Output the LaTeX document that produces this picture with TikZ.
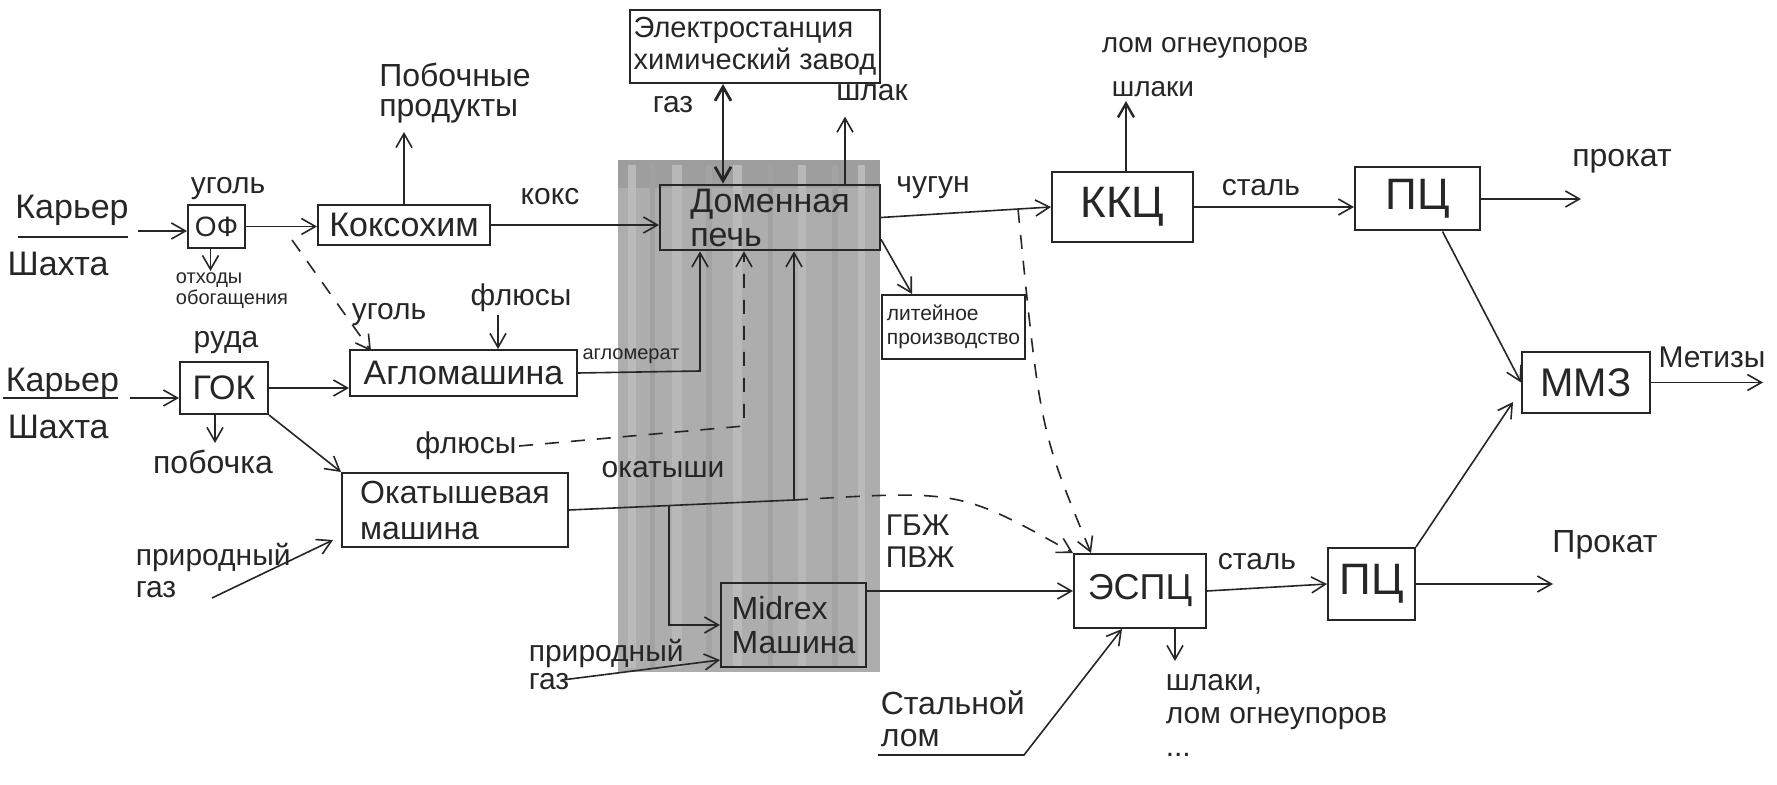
\documentclass[tikz,border=0pt]{standalone}
\usepackage{fontspec}
\setmainfont{Liberation Sans}
\usetikzlibrary{arrows.meta}
\newcommand\myfs[2]{\fontsize{#1}{#2}\selectfont}
\begin{document}
\begin{tikzpicture}[x=0.5pt,y=-0.5pt,line width=0.8pt,
  >={Straight Barb[length=7pt,width=8pt]},
  box/.style={draw=black!85,line width=1pt,inner sep=2pt,align=center,text=black!85},
  lab/.style={inner sep=1pt,text=black!85,font=\myfs{15}{16}},
  dsh/.style={dash pattern=on 7pt off 6pt},
  conn/.style={draw=black!85,->}]
\useasboundingbox (0,0) rectangle (1777,785);
% grey band
\fill[black!32] (618,160) rectangle (880,672);
\fill[black!38] (618,160) rectangle (880,188);
\foreach \x/\w/\c in {628/8/27,650/5/37,672/10/28,706/6/36,733/9/27,768/5/37,798/8/28,832/6/36,858/7/27}
  \fill[black!\c] (\x,165) rectangle ++(\w,503);

% boxes
\node[box,minimum width=28.5pt,minimum height=21.5pt,font=\myfs{14}{16}] (of) at (216.5,226.5) {ОФ};
\node[box,minimum width=86pt,minimum height=20pt,font=\myfs{17}{19}] (koks) at (404,225) {Коксохим};
\node[box,minimum width=110pt,minimum height=32.5pt,font=\myfs{17}{17},align=left] (domna) at (770,217.5) {Доменная\\печь};
\node[box,minimum width=125pt,minimum height=36.5pt,font=\myfs{14.5}{16},align=left] (es) at (755,46.5) {Электростанция\\химический завод};
\node[box,minimum width=70.5pt,minimum height=35pt,font=\myfs{22}{24}] (kkc) at (1122.5,207) {ККЦ};
\node[box,minimum width=62.5pt,minimum height=31.5pt,font=\myfs{22}{24}] (pc1) at (1417.5,199) {ПЦ};
\node[box,minimum width=64pt,minimum height=30.5pt,font=\myfs{20}{22}] (mmz) at (1586,382.5) {ММЗ};
\node[box,minimum width=43.5pt,minimum height=36pt,font=\myfs{22}{24}] (pc2) at (1371.5,584) {ПЦ};
\node[box,minimum width=66pt,minimum height=37pt,font=\myfs{18}{20}] (espc) at (1140,591) {ЭСПЦ};
\node[box,minimum width=72.5pt,minimum height=42pt,font=\myfs{16}{17},align=left] (midrex) at (793.5,625) {Midrex\\Машина};
\node[box,minimum width=113pt,minimum height=37pt,font=\myfs{16}{18},align=left] (okat) at (455,510) {Окатышевая\\машина};
\node[box,minimum width=113.5pt,minimum height=23pt,font=\myfs{17}{19}] (aglo) at (463.5,373) {Агломашина};
\node[box,minimum width=44pt,minimum height=26pt,font=\myfs{17}{19}] (gok) at (224,388) {ГОК};
\node[box,minimum width=71.5pt,minimum height=32pt,font=\myfs{10.5}{12},align=left,inner sep=1pt] (lit) at (953.5,327) {литейное\\производство};

% labels
\node[lab,font=\myfs{17}{18}] (kar1) at (72,210) {Карьер};
\node[lab,font=\myfs{17}{18}] (sha1) at (58,264) {Шахта};
\node[lab,font=\myfs{17}{18},anchor=west] (kar2) at (3,383) {Карьер};
\node[lab,font=\myfs{17}{18},anchor=west] (sha2) at (5,427) {Шахта};
\node[lab] (ugol1) at (228,189) {уголь};
\node[lab,font=\myfs{10}{10.5},align=left] (otx) at (232,291) {отходы\\обогащения};
\node[lab,font=\myfs{16}{15},align=left] (poboch) at (455,93) {Побочные\\продукты};
\node[lab] (koksl) at (550,197) {кокс};
\node[lab] (gazl) at (673,105) {газ};
\node[lab] (shlakl) at (872,93) {шлак};
\node[lab] (chugun) at (933,188) {чугун};
\node[lab,font=\myfs{14}{15}] (shlaki1) at (1153,89) {шлаки};
\node[lab,font=\myfs{14}{15}] (lom1) at (1205,48) {лом огнеупоров};
\node[lab] (stal1) at (1261,188) {сталь};
\node[lab,font=\myfs{16}{17}] (prokat1) at (1622,161) {прокат};
\node[lab] (metizy) at (1712,357) {Метизы};
\node[lab,font=\myfs{16}{17}] (prokat2) at (1605,545) {Прокат};
\node[lab] (stal2) at (1257,562) {сталь};
\node[lab,align=left,anchor=north west] (gbj) at (883,512) {ГБЖ\\ПВЖ};
\node[lab,align=left,anchor=north west,font=\myfs{15}{16.5}] (shl2) at (1163,672) {шлаки,\\лом огнеупоров\\...};
\node[lab,align=left,anchor=north west,font=\myfs{16}{16}] (stlom) at (878,688) {Стальной\\лом};
\node[lab] (ruda) at (226,343) {руда};
\node[lab,font=\myfs{16}{17}] (pobochka) at (213,462) {побочка};
\node[lab] (flus1) at (521,298) {флюсы};
\node[lab] (ugol2) at (389,315) {уголь};
\node[lab,font=\myfs{10}{11}] (aglomerat) at (631,356) {агломерат};
\node[lab] (flus2) at (466,446) {флюсы};
\node[lab] (okatyshi) at (663,470) {окатыши};
\node[lab,align=left,anchor=north west,font=\myfs{15}{16}] (prir1) at (133,540) {природный\\газ};
\node[lab,align=left,anchor=north west,font=\myfs{15}{14}] (prir2) at (526,636) {природный\\газ};

% underlines
\draw[black!85] (18,237) -- (128,237);
\draw[black!85] (3,398) -- (118,398);

% connectors
\coordinate (k1) at (138,231);
\draw[conn] (k1) -- (of.west |- k1);
\draw[conn] (of.east) -- (koks.west |- of.east);
\draw[conn] ([xshift=-3pt]of.south) -- ++(0,22);
\draw[conn] (koks.north) -- ++(0,-72);
\draw[conn] (koks.east) -- (domna.west |- koks.east);
\coordinate (gx) at (723,0);
\draw[<->,draw=black!85,line width=1.4pt] (es.south -| gx) -- (domna.north -| gx);
\coordinate (sx) at (845,0);
\draw[conn] (domna.north -| sx) -- ++(0,-67);
\draw[conn] (domna.east) -- (kkc.west);
\coordinate (kx) at (1126,0);
\draw[conn,line width=1.2pt] (kkc.north -| kx) -- ++(0,-70);
\draw[conn] (kkc.east) -- (pc1.west |- kkc.east);
\draw[conn] (pc1.east) -- ++(100,0);
\draw[conn] ([xshift=12.5pt]pc1.south) -- (mmz.west);
\draw[conn] (mmz.east) -- ++(112,0);
\draw[conn] (pc2.north east) -- ([xshift=-4pt,yshift=6pt]mmz.south west);
\draw[conn] (pc2.east) -- ++(137,0);
\draw[conn] (espc.east) -- (pc2.west);
\coordinate (ex) at (1175,0);
\draw[conn] (espc.south -| ex) -- ++(0,32);
\coordinate (sl1) at (878,755);
\coordinate (sl2) at (1024,755);
\coordinate (slx) at (1122,0);
\draw[conn] (sl1) -- (sl2) -- (espc.south -| slx);
\draw[conn] (midrex.east |- espc.west) -- (espc.west);
\coordinate (g2) at (562,680);
\draw[conn] (g2) -- ([yshift=4pt]midrex.south west);
\coordinate (okc) at (794,500);
\draw[conn] (okat.east) -- (okc) -- (domna.south -| okc);
\coordinate (okb) at (669,506);
\draw[conn] (okb) |- (midrex.west);
\coordinate (agc) at (700,371);
\draw[conn] (aglo.east) -- (agc) -- (domna.south -| agc);
\coordinate (fx) at (498,0);
\draw[conn] (flus1.south -| fx) -- (aglo.north -| fx);
\coordinate (ud) at (292,240);
\draw[conn,dsh] (ud) -- ([xshift=11pt,yshift=-1pt]aglo.north west);
\draw[conn] (gok.east) -- (aglo.west |- gok.east);
\coordinate (k2) at (130,398);
\draw[conn] (k2) -- (gok.west |- k2);
\coordinate (gbx) at (215,0);
\draw[conn] (gok.south -| gbx) -- ++(0,28);
\draw[conn] (gok.south east) -- (okat.north west);
\coordinate (g1) at (212,598);
\draw[conn] (g1) -- ([xshift=-4pt,yshift=4pt]okat.south west);
\coordinate (lt) at (912,0);
\draw[conn] ([yshift=6pt]domna.south east) -- (lit.north -| lt);
\coordinate (fdc) at (744,426);
\draw[conn,dsh] (flus2.east) -- (fdc) -- (domna.south -| fdc);
\coordinate (dv) at (1018,209);
\coordinate (dvx) at (1091,0);
\draw[conn,dsh] (dv) .. controls (1040,430) .. (espc.north -| dvx);
\draw[conn,dsh] (okc) .. controls (960,490) .. (espc.north west);
\end{tikzpicture}
\end{document}
